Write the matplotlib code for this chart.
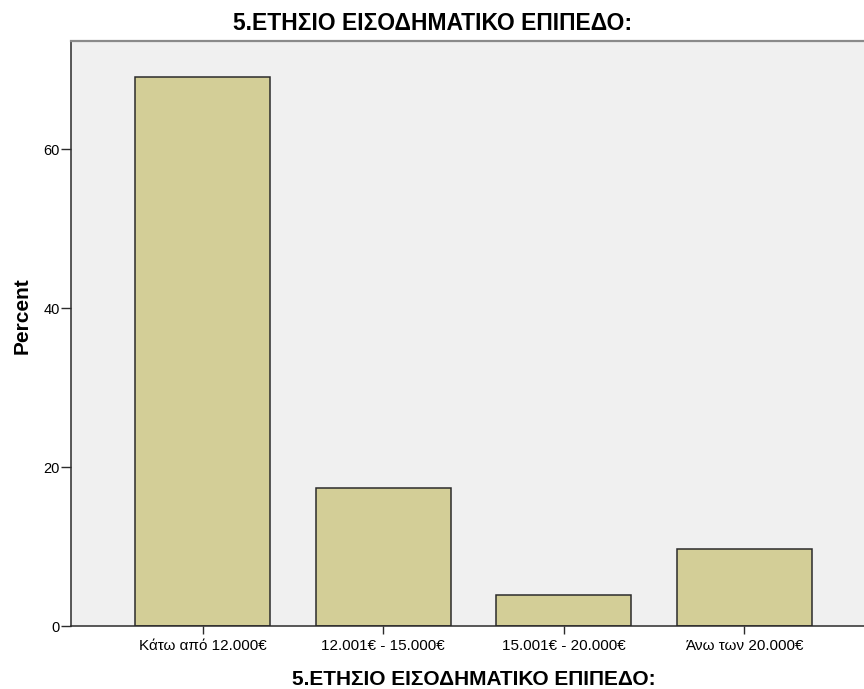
import matplotlib.pyplot as plt

plt.rcParams['font.family'] = ['Liberation Sans', 'DejaVu Sans']

categories = ['Κάτω από 12.000€', '12.001€ - 15.000€', '15.001€ - 20.000€', 'Άνω των 20.000€']
percent = [69.1, 17.3, 3.9, 9.7]
title = '5.ΕΤΗΣΙΟ ΕΙΣΟΔΗΜΑΤΙΚΟ ΕΠΙΠΕΔΟ:'

fig = plt.figure(figsize=(8.64, 6.89), dpi=100)
# right edge of the plot runs slightly past the image border, as in the original
ax = fig.add_axes([71 / 864, 1 - 626 / 689, 805 / 864, 585 / 689])
ax.set_facecolor('#f0f0f0')

x = range(len(categories))
ax.bar(x, percent, width=0.75, color='#d3ce97', edgecolor='#2b2b2b', linewidth=1.1)

ax.set_xlim(-0.73, 3.73)
ax.set_ylim(0, 73.6)
ax.set_yticks([0, 20, 40, 60])
ax.set_xticks(list(x))
ax.set_xticklabels(categories, fontsize=11)
ax.tick_params(axis='y', labelsize=10.5, length=7, width=1, color='#2b2b2b', pad=1)
ax.tick_params(axis='x', length=6, width=1, color='#2b2b2b', pad=3.5)

for side in ['left', 'bottom']:
    ax.spines[side].set_color('#2b2b2b')
    ax.spines[side].set_linewidth(1.1)
ax.spines['top'].set_color('#8a8a8a')
ax.spines['top'].set_linewidth(1.6)
ax.spines['right'].set_visible(False)

ax.set_ylabel('Percent', fontsize=15, fontweight='bold')
ax.yaxis.set_label_coords(-39 / 805, 310 / 585)
ax.set_xlabel(title, fontsize=15, fontweight='bold', va='baseline')
ax.xaxis.set_label_coords(0.5, -59 / 585)
fig.text(433 / 864, 1 - 23 / 689, title, fontsize=16.5, fontweight='bold', ha='center', va='center')

fig.savefig('out.png', dpi=100)
